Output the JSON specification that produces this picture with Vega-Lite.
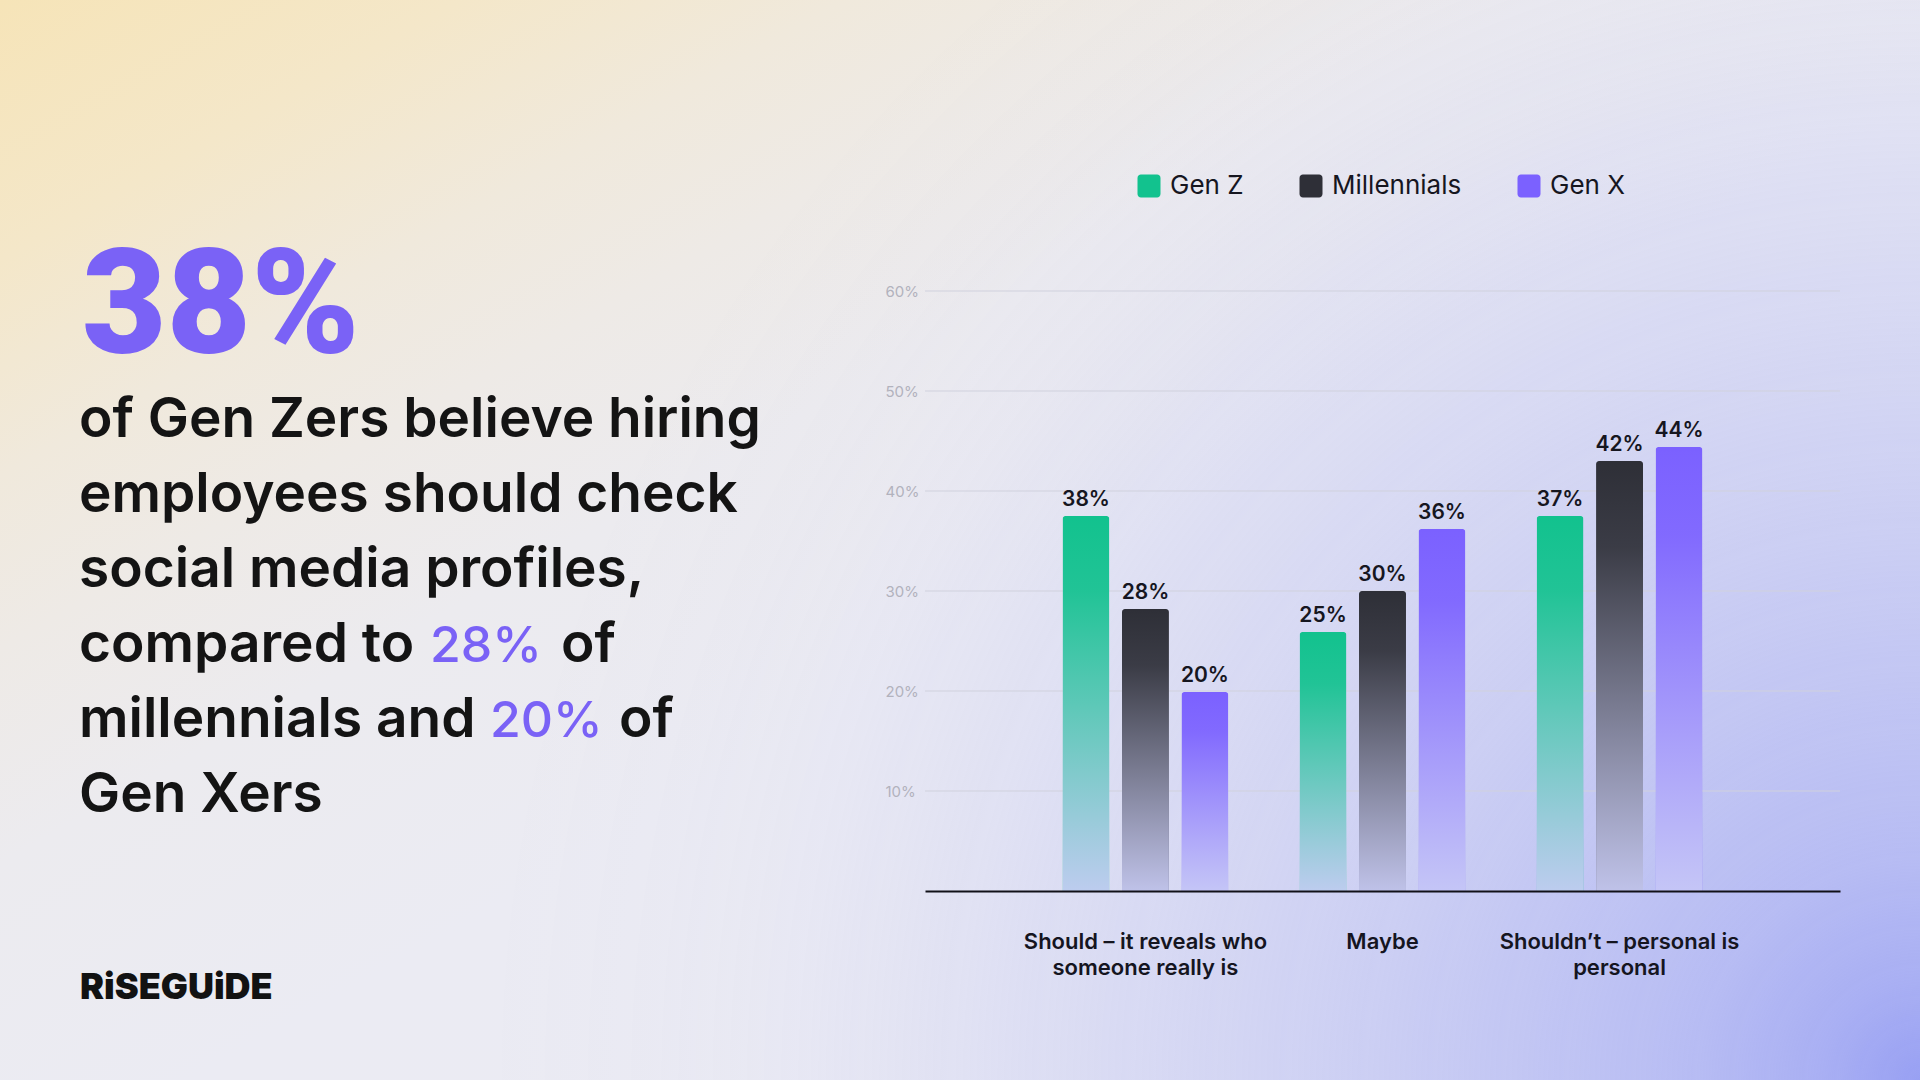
{
  "$schema": "https://vega.github.io/schema/vega-lite/v6.json",
  "width": 1920,
  "height": 1080,
  "autosize": {"type": "none"},
  "padding": 0,
  "background": "#ebebf2",
  "config": {"font": "Inter", "view": {"stroke": null}},
  "datasets": {
    "survey": [
      {"answer": "Should – it reveals who someone really is", "gen": "Gen Z", "value": 37.5, "label": "38%"},
      {"answer": "Should – it reveals who someone really is", "gen": "Millennials", "value": 28.2, "label": "28%"},
      {"answer": "Should – it reveals who someone really is", "gen": "Gen X", "value": 19.9, "label": "20%"},
      {"answer": "Maybe", "gen": "Gen Z", "value": 25.9, "label": "25%"},
      {"answer": "Maybe", "gen": "Millennials", "value": 30.0, "label": "30%"},
      {"answer": "Maybe", "gen": "Gen X", "value": 36.2, "label": "36%"},
      {"answer": "Shouldn't – personal is personal", "gen": "Gen Z", "value": 37.5, "label": "37%"},
      {"answer": "Shouldn't – personal is personal", "gen": "Millennials", "value": 43.0, "label": "42%"},
      {"answer": "Shouldn't – personal is personal", "gen": "Gen X", "value": 44.4, "label": "44%"}
    ],
    "gridticks": [{"tick": 10}, {"tick": 20}, {"tick": 30}, {"tick": 40}, {"tick": 50}, {"tick": 60}]
  },
  "data": {"name": "survey"},
  "layer": [
    {
      "data": {"values": [{}]},
      "mark": {
        "type": "rect", "x": 0, "x2": "width", "y": 0, "y2": "height",
        "fill": {
          "gradient": "linear", "x1": 0, "y1": 0, "x2": 1, "y2": 1,
          "stops": [
            {"offset": 0, "color": "#f6e4b8"},
            {"offset": 0.12, "color": "#f4e7c9"},
            {"offset": 0.22, "color": "#f0e9dc"},
            {"offset": 0.3, "color": "#eeeae6"},
            {"offset": 0.4, "color": "#ecebef"},
            {"offset": 0.55, "color": "#ebebf3"},
            {"offset": 1, "color": "#ebebf4"}
          ]
        }
      }
    },
    {
      "data": {"values": [{}]},
      "mark": {
        "type": "rect", "x": 0, "x2": "width", "y": 0, "y2": "height",
        "fill": {
          "gradient": "radial", "x1": 1, "y1": 0.78125, "r1": 0, "x2": 1, "y2": 0.78125, "r2": 0.75,
          "stops": [
            {"offset": 0, "color": "rgba(152,160,243,1)"},
            {"offset": 0.067, "color": "rgba(152,160,243,0.8)"},
            {"offset": 0.16, "color": "rgba(152,160,243,0.62)"},
            {"offset": 0.267, "color": "rgba(152,160,243,0.5)"},
            {"offset": 0.4, "color": "rgba(152,160,243,0.36)"},
            {"offset": 0.533, "color": "rgba(152,160,243,0.24)"},
            {"offset": 0.667, "color": "rgba(152,160,243,0.13)"},
            {"offset": 0.773, "color": "rgba(152,160,243,0.05)"},
            {"offset": 0.88, "color": "rgba(152,160,243,0.015)"},
            {"offset": 1, "color": "rgba(152,160,243,0)"}
          ]
        }
      }
    },
    {
      "data": {"name": "gridticks"},
      "mark": {"type": "rule", "color": "#d0d1dd", "strokeWidth": 1, "x": {"expr": "range('x')[0]"}, "x2": {"expr": "range('x')[1]"}},
      "encoding": {"y": {"field": "tick", "type": "quantitative"}}
    },
    {
      "mark": {"type": "bar", "cornerRadiusTopLeft": 3, "cornerRadiusTopRight": 3},
      "encoding": {
        "x": {
          "field": "answer", "type": "nominal", "sort": null,
          "scale": {"range": [925, 1840], "paddingInner": 0.3, "paddingOuter": 0.58},
          "axis": {
            "orient": "bottom", "offset": -189, "title": null, "grid": false, "zindex": 1,
            "domainColor": "#111118", "domainWidth": 2,
            "ticks": false, "tickSize": 0, "labelPadding": 40, "labelAngle": 0,
            "labelFont": "Inter", "labelFontSize": 22, "labelFontWeight": 600, "labelColor": "#15151f",
            "labelLineHeight": 26, "labelLimit": 0, "labelOverlap": false,
            "labelExpr": "datum.value == 'Maybe' ? 'Maybe' : (indexof(datum.value, 'Should –') == 0 ? ['Should – it reveals who', 'someone really is'] : ['Shouldn\u2019t – personal is', 'personal'])"
          }
        },
        "xOffset": {
          "field": "gen", "type": "nominal", "sort": ["Gen Z", "Millennials", "Gen X"],
          "scale": {"paddingInner": 0.21, "paddingOuter": 0}
        },
        "y": {
          "field": "value", "type": "quantitative",
          "scale": {"domain": [0, 60], "range": [891, 291], "nice": false},
          "axis": {
            "values": [10, 20, 30, 40, 50, 60], "labelExpr": "datum.value + '%'", "zindex": 1,
            "offset": -925, "title": null, "domain": false, "ticks": false, "tickSize": 0,
            "labelAlign": "left", "labelPadding": 40, "labelFont": "Inter", "labelFontSize": 15,
            "labelColor": "#b2b2bd", "grid": false
          }
        },
        "color": {
          "field": "gen", "type": "nominal", "sort": ["Gen Z", "Millennials", "Gen X"],
          "scale": {"domain": ["Gen Z", "Millennials", "Gen X"], "range": ["#12c28e", "#2e2f37", "#7b61ff"]},
          "legend": {
            "title": null, "orient": "none", "legendX": 1136, "legendY": 173, "direction": "horizontal", "zindex": 1,
            "symbolType": "M-0.7,-1H0.7A0.3,0.3,0,0,1,1,-0.7V0.7A0.3,0.3,0,0,1,0.7,1H-0.7A0.3,0.3,0,0,1,-1,0.7V-0.7A0.3,0.3,0,0,1,-0.7,-1Z",
            "symbolSize": 529, "symbolStrokeWidth": 0, "symbolOpacity": 1,
            "labelFont": "Inter", "labelFontSize": 26, "labelColor": "#16161f", "labelOffset": 8,
            "columnPadding": 54, "padding": 0, "labelLimit": 0
          }
        }
      }
    },
    {
      "mark": {
        "type": "bar", "cornerRadiusTopLeft": 3, "cornerRadiusTopRight": 3,
        "fill": {
          "gradient": "linear", "x1": 0, "y1": 0, "x2": 0, "y2": 1,
          "stops": [
            {"offset": 0, "color": "rgba(208,211,246,0)"},
            {"offset": 0.2, "color": "rgba(208,211,246,0.08)"},
            {"offset": 0.6, "color": "rgba(205,208,246,0.5)"},
            {"offset": 1, "color": "rgba(202,205,246,0.93)"}
          ]
        }
      },
      "encoding": {
        "x": {"field": "answer", "type": "nominal", "sort": null},
        "xOffset": {"field": "gen", "type": "nominal", "sort": ["Gen Z", "Millennials", "Gen X"]},
        "y": {"field": "value", "type": "quantitative"}
      }
    },
    {
      "mark": {"type": "text", "baseline": "alphabetic", "dy": -10, "font": "Inter", "fontSize": 21, "fontWeight": 600, "color": "#16161f"},
      "encoding": {
        "x": {"field": "answer", "type": "nominal", "sort": null},
        "xOffset": {"field": "gen", "type": "nominal", "sort": ["Gen Z", "Millennials", "Gen X"]},
        "y": {"field": "value", "type": "quantitative"},
        "text": {"field": "label"}
      }
    },
    {
      "data": {"values": [{}]},
      "mark": {"type": "text", "text": "38%", "x": 82, "y": 353, "align": "left", "baseline": "alphabetic", "font": "Roboto", "fontSize": 146, "fontWeight": 900, "color": "#7a62f6"}
    },
    {
      "data": {"values": [{}]},
      "mark": {
        "type": "text",
        "text": ["of Gen Zers believe hiring", "employees should check", "social media profiles,", "compared to", "millennials and", "Gen Xers"],
        "x": 79, "y": 437, "lineHeight": 75, "align": "left", "baseline": "alphabetic",
        "font": "Inter", "fontSize": 55, "fontWeight": 600, "color": "#141414"
      }
    },
    {
      "data": {"values": [{}]},
      "mark": {"type": "text", "text": "28%", "x": 430, "y": 662, "align": "left", "baseline": "alphabetic", "font": "Inter", "fontSize": 50, "fontWeight": 500, "color": "#7a62f6"}
    },
    {
      "data": {"values": [{}]},
      "mark": {"type": "text", "text": "20%", "x": 490, "y": 737, "align": "left", "baseline": "alphabetic", "font": "Inter", "fontSize": 50, "fontWeight": 500, "color": "#7a62f6"}
    },
    {
      "data": {"values": [{}]},
      "mark": {"type": "text", "text": "of", "x": 561, "y": 662, "align": "left", "baseline": "alphabetic", "font": "Inter", "fontSize": 55, "fontWeight": 600, "color": "#141414"}
    },
    {
      "data": {"values": [{}]},
      "mark": {"type": "text", "text": "of", "x": 619, "y": 737, "align": "left", "baseline": "alphabetic", "font": "Inter", "fontSize": 55, "fontWeight": 600, "color": "#141414"}
    },
    {
      "data": {"values": [{}]},
      "mark": {"type": "text", "text": "RiSEGUiDE", "x": 80, "y": 999, "align": "left", "baseline": "alphabetic", "font": "Inter", "fontSize": 36, "fontWeight": 900, "color": "#121212"}
    }
  ]
}
